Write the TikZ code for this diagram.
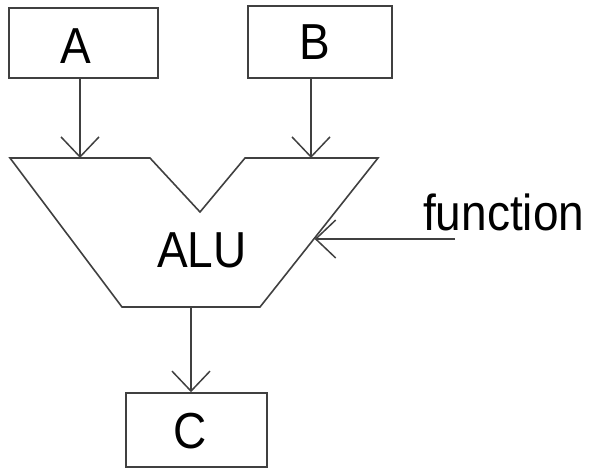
\documentclass[tikz,border=0pt]{standalone}
\usepackage{fontspec}
\setmainfont{Liberation Sans}
\usetikzlibrary{arrows.meta,calc}
\begin{document}
\begin{tikzpicture}[x=1pt,y=-1pt,
  ln/.style={draw=black!75,line width=1.6pt,line join=miter},
  regbox/.style={ln,inner sep=0pt,fill=white},
  lbl/.style={inner sep=0pt,font=\fontsize{46}{50}\selectfont},
  arr/.style={draw=black!75,line width=1.5pt,-{Straight Barb[length=20pt,width=38pt,line width=1.5pt]}}]
\useasboundingbox (0,0) rectangle (589,469);
% registers
\node[regbox,minimum width=149pt,minimum height=70pt] (A) at (83.5,43) {};
\node[regbox,minimum width=144pt,minimum height=72pt] (B) at (320,42) {};
\node[regbox,minimum width=141pt,minimum height=74pt] (C) at (196.5,430) {};
\node[lbl] (Atext) at (76,46) {\scalebox{1}[1.1]{A}};
\node[lbl] (Btext) at (315,42) {\scalebox{1}[1.1]{B}};
\node[lbl] (Ctext) at (190,431) {\scalebox{1}[1.1]{C}};
% ALU outline
\coordinate (tl) at (10,158);
\coordinate (t1) at (150,158);
\coordinate (v) at (200,212);
\coordinate (t2) at (245,158);
\coordinate (tr) at (378,158);
\coordinate (br) at (260,307);
\coordinate (bl) at (122,307);
\draw[ln] (tl) -- (t1) -- (v) -- (t2) -- (tr) -- (br) -- (bl) -- cycle;
\node[lbl] (ALU) at (202,250) {\scalebox{1}[1.1]{ALU}};
% connector end points
\coordinate (inA) at (80,158);
\coordinate (inB) at (311,158);
\coordinate (outC) at (191,307);
\coordinate (fnend) at ($(tr)!0.537!(br)$);
\coordinate (fnstart) at (455,239);
\draw[arr] (A.south -| inA) -- (inA);
\draw[arr] (B.south -| inB) -- (inB);
\draw[arr] (outC) -- (C.north -| outC);
\draw[arr] (fnstart) -- (fnend |- fnstart);
\node[lbl,anchor=base west] (fn) at (423,230) {\scalebox{1}[1.1]{function}};
\end{tikzpicture}
\end{document}
